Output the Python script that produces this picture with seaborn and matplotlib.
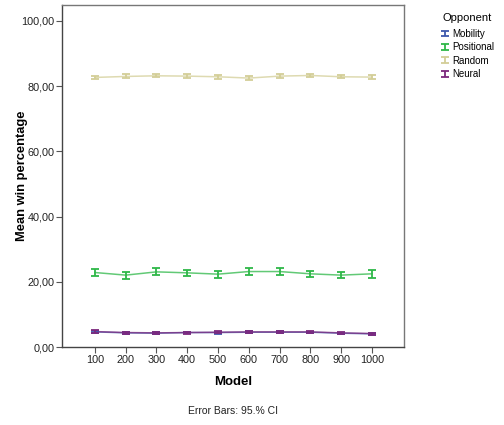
import numpy as np
import pandas as pd
import matplotlib
matplotlib.use("Agg")
import matplotlib.pyplot as plt
import seaborn as sns
from matplotlib.container import ErrorbarContainer
from matplotlib.legend_handler import HandlerErrorbar

# Data
models = ["100", "200", "300", "400", "500", "600", "700", "800", "900", "1000"]
opponents = ["Mobility", "Positional", "Random", "Neural"]

mobility = [4.7, 4.4, 4.3, 4.5, 4.5, 4.6, 4.6, 4.6, 4.3, 4.1]
positional = [22.9, 22.1, 23.1, 22.8, 22.4, 23.2, 23.2, 22.5, 22.1, 22.5]
random_ = [82.7, 83.0, 83.2, 83.1, 82.9, 82.5, 83.1, 83.3, 82.9, 82.8]
neural = [4.8, 4.5, 4.4, 4.5, 4.6, 4.7, 4.7, 4.7, 4.4, 4.2]

mobility_ci = [0.3, 0.2, 0.3, 0.2, 0.3, 0.3, 0.3, 0.2, 0.2, 0.2]
positional_ci = [1.2, 1.1, 1.1, 1.0, 1.1, 1.2, 1.1, 1.0, 1.0, 1.2]
random_ci = [0.5, 0.6, 0.5, 0.5, 0.6, 0.5, 0.5, 0.6, 0.5, 0.5]
neural_ci = [0.4, 0.3, 0.3, 0.3, 0.3, 0.3, 0.3, 0.3, 0.3, 0.3]

colors = ["#3E58AC", "#2EB848", "#D3CE97", "#7C287D"]

plt.rcParams["font.family"] = ["Liberation Sans", "DejaVu Sans"]

rows = []
for opp, vals, cis in zip(opponents,
                          [mobility, positional, random_, neural],
                          [mobility_ci, positional_ci, random_ci, neural_ci]):
    for i, (m, v, c) in enumerate(zip(models, vals, cis)):
        rows.append({"pos": i, "Model": m, "Opponent": opp, "mean": v, "ci": c})
df = pd.DataFrame(rows)

fig = plt.figure(figsize=(5.04, 4.25), dpi=100)
ax = fig.add_axes([0.123, 0.183, 0.679, 0.806])

sns.lineplot(data=df, x="pos", y="mean", hue="Opponent", hue_order=opponents,
             palette=colors, linewidth=1.1, alpha=0.75, legend=False, ax=ax)

handles = []
for opp, col in zip(opponents, colors):
    d = df[df["Opponent"] == opp]
    eb = ax.errorbar(d["pos"], d["mean"], yerr=d["ci"], fmt="none", ecolor=col,
                     elinewidth=1.3, capsize=3, capthick=1.3)
    handles.append(eb)

ax.set_xlim(-1.07, 10.05)
ax.set_ylim(0, 105)
ax.set_xticks(range(len(models)))
ax.set_xticklabels(models)
ax.set_yticks([0, 20, 40, 60, 80, 100])
ax.set_yticklabels(["0,00", "20,00", "40,00", "60,00", "80,00", "100,00"])
ax.tick_params(labelsize=7.8, length=4, pad=1.5, color="#555555",
               labelcolor="#222222")

for s in ax.spines.values():
    s.set_color("#777777")
    s.set_linewidth(1)
ax.spines["left"].set_color("#444444")
ax.spines["bottom"].set_color("#444444")

ax.set_xlabel("Model", fontsize=9.5, fontweight="bold")
ax.set_ylabel("Mean win percentage", fontsize=9.3, fontweight="bold")
ax.yaxis.set_label_coords(-0.10, 0.5)
ax.xaxis.set_label_coords(0.5, -0.085)

fig.text(0.463, 0.033, "Error Bars: 95.% CI", fontsize=7.5, ha="center",
         va="center", color="#222222")

leg = fig.legend(handles, opponents, title="Opponent", loc="upper left",
                 bbox_to_anchor=(0.865, 0.985), frameon=False, fontsize=7,
                 title_fontsize=8, handlelength=0.5, handletextpad=0.5,
                 labelspacing=0.35, borderpad=0.2, handleheight=0.6,
                 handler_map={ErrorbarContainer: HandlerErrorbar(xerr_size=0.2,
                                                                 yerr_size=0.3)})
leg._legend_box.align = "left"
leg._legend_box.sep = 4

fig.savefig("out.png", dpi=100)
